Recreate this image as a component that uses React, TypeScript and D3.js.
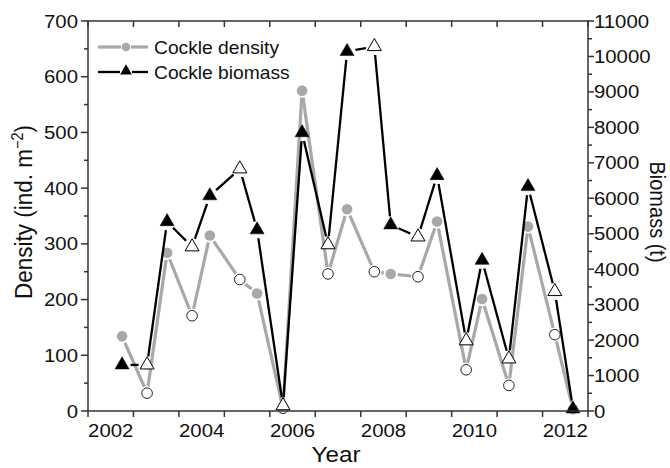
import React from "react";
import * as d3 from "d3";

const dates = [2002.75, 2003.3, 2003.74, 2004.29, 2004.68, 2005.34, 2005.72, 2006.29, 2006.71, 2007.28, 2007.7, 2008.3, 2008.66, 2009.26, 2009.68, 2010.32, 2010.67, 2011.26, 2011.68, 2012.27, 2012.67];
const density = [134, 32, 284, 171, 315, 236, 211, 5, 575, 246, 362, 250, 246, 241, 340, 74, 201, 46, 331, 137, 3];
const biomass = [1300, 1300, 5340, 4630, 6070, 6830, 5110, 150, 7850, 4690, 10140, 10280, 5250, 4910, 6640, 1980, 4250, 1470, 6330, 3370, 60];
const filled = [true, false, true, false, true, false, true, false, true, false, true, false, true, false, true, false, true, false, true, false, true];
const yearTicks = d3.range(2002, 2014);
const yearLabels = [2002, 2004, 2006, 2008, 2010, 2012];
const legendLabels = ["Cockle density", "Cockle biomass"];

const W = 670, H = 468;
const M = { left: 88, right: 588, top: 21, bottom: 411 };
const FONT = "'Liberation Sans', Arial, Helvetica, sans-serif";
const GREY = "#a8a8a8";
const AXIS = "#333";
const SX = 1.1;

function T({ x, y, size, anchor = "start", children }: any) {
  return (
    <text transform={`translate(${x},${y}) scale(${SX},1)`} fontSize={size} textAnchor={anchor} fill="#111">
      {children}
    </text>
  );
}

export default function App() {
  const x = d3.scaleLinear().domain([2002, 2013]).range([M.left, M.right]);
  const yL = d3.scaleLinear().domain([0, 700]).range([M.bottom, M.top]);
  const yR = d3.scaleLinear().domain([0, 11000]).range([M.bottom, M.top]);

  const tri = d3.symbol().type(d3.symbolTriangle).size(85)();
  const triLegend = d3.symbol().type(d3.symbolTriangle).size(60)();

  const segs = (ys: number[], scale: (v: number) => number, gap: number) => {
    const pts = dates.map((d, i) => [x(d), scale(ys[i])] as [number, number]);
    const out: [number, number, number, number][] = [];
    for (let i = 0; i < pts.length - 1; i++) {
      const [x1, y1] = pts[i];
      const [x2, y2] = pts[i + 1];
      const len = Math.hypot(x2 - x1, y2 - y1);
      if (len <= 2 * gap) continue;
      const ux = (x2 - x1) / len, uy = (y2 - y1) / len;
      out.push([x1 + ux * gap, y1 + uy * gap, x2 - ux * gap, y2 - uy * gap]);
    }
    return out;
  };

  const dSegs = segs(density, yL, 7);
  const bSegs = segs(biomass, yR, 8.5);

  const leftMajor = d3.range(0, 701, 100);
  const leftMinor = d3.range(50, 700, 100);
  const rightMajor = d3.range(0, 11001, 1000);
  const rightMinor = d3.range(500, 11000, 1000);

  return (
    <div style={{ position: "absolute", left: 0, top: 0 }}>
      <svg width={W} height={H} style={{ display: "block", background: "#fff" }} fontFamily={FONT}>
        {/* density line */}
        {dSegs.map((s, i) => (
          <line key={"ds" + i} x1={s[0]} y1={s[1]} x2={s[2]} y2={s[3]} stroke={GREY} strokeWidth={3.2} strokeLinecap="butt" />
        ))}
        {dates.map((d, i) => (
          <circle key={"dc" + i} cx={x(d)} cy={yL(density[i])} r={5.3}
            fill={filled[i] ? GREY : "#fff"} stroke={filled[i] ? "none" : "#222"} strokeWidth={1} />
        ))}
        {/* biomass line */}
        {bSegs.map((s, i) => (
          <line key={"bs" + i} x1={s[0]} y1={s[1]} x2={s[2]} y2={s[3]} stroke="#000" strokeWidth={2.3} strokeLinecap="butt" />
        ))}
        {dates.map((d, i) => (
          <path key={"bt" + i} d={tri} transform={`translate(${x(d)},${yR(biomass[i])})`}
            fill={filled[i] ? "#000" : "#fff"} stroke="#000" strokeWidth={filled[i] ? 0.5 : 1} />
        ))}

        {/* frame */}
        <rect x={M.left} y={M.top} width={M.right - M.left} height={M.bottom - M.top} fill="none" stroke={AXIS} strokeWidth={1.5} />

        {/* bottom / top ticks */}
        {yearTicks.map((t) => (
          <g key={"xt" + t}>
            <line x1={x(t)} x2={x(t)} y1={M.bottom} y2={M.bottom + 6} stroke={AXIS} strokeWidth={1.5} />
            <line x1={x(t)} x2={x(t)} y1={M.top} y2={M.top + 6} stroke={AXIS} strokeWidth={1.5} />
          </g>
        ))}
        {yearLabels.map((t) => (
          <T key={"xl" + t} x={x(t + 0.5)} y={437} size={18.5} anchor="middle">{t}</T>
        ))}
        <T x={336} y={462} size={22} anchor="middle">Year</T>

        {/* left axis */}
        {leftMajor.map((t) => (
          <g key={"lm" + t}>
            <line x1={M.left - 7} x2={M.left} y1={yL(t)} y2={yL(t)} stroke={AXIS} strokeWidth={1.5} />
            <T x={M.left - 10} y={yL(t) + 6.5} size={18.5} anchor="end">{t}</T>
          </g>
        ))}
        {leftMinor.map((t) => (
          <line key={"ln" + t} x1={M.left - 4} x2={M.left} y1={yL(t)} y2={yL(t)} stroke={AXIS} strokeWidth={1.5} />
        ))}
        <text transform={`translate(32,212) scale(${SX},1) rotate(-90)`} fontSize={22.5} textAnchor="middle" fill="#111">
          Density (ind. m<tspan dy={-8} fontSize={14.5}>−2</tspan><tspan dy={8}>)</tspan>
        </text>

        {/* right axis */}
        {rightMajor.map((t) => (
          <g key={"rm" + t}>
            <line x1={M.right} x2={M.right + 6} y1={yR(t)} y2={yR(t)} stroke={AXIS} strokeWidth={1.5} />
            <T x={M.right + 6} y={yR(t) + 6.5} size={18.5} anchor="start">{t}</T>
          </g>
        ))}
        {rightMinor.map((t) => (
          <line key={"rn" + t} x1={M.right} x2={M.right + 4} y1={yR(t)} y2={yR(t)} stroke={AXIS} strokeWidth={1.5} />
        ))}
        <text transform={`translate(650,212) scale(${SX},1) rotate(90)`} fontSize={20} textAnchor="middle" fill="#111">Biomass (t)</text>

        {/* legend */}
        <g>
          <line x1={98} x2={121} y1={47} y2={47} stroke={GREY} strokeWidth={3.2} />
          <line x1={131} x2={148} y1={47} y2={47} stroke={GREY} strokeWidth={3.2} />
          <circle cx={126} cy={47} r={4.3} fill={GREY} />
          <T x={154} y={53.5} size={17.5}>{legendLabels[0]}</T>
          <line x1={98} x2={120} y1={72} y2={72} stroke="#000" strokeWidth={2.3} />
          <line x1={132} x2={148} y1={72} y2={72} stroke="#000" strokeWidth={2.3} />
          <path d={triLegend} transform="translate(126,71)" fill="#000" />
          <T x={154} y={78.5} size={17.5}>{legendLabels[1]}</T>
        </g>
      </svg>
    </div>
  );
}
